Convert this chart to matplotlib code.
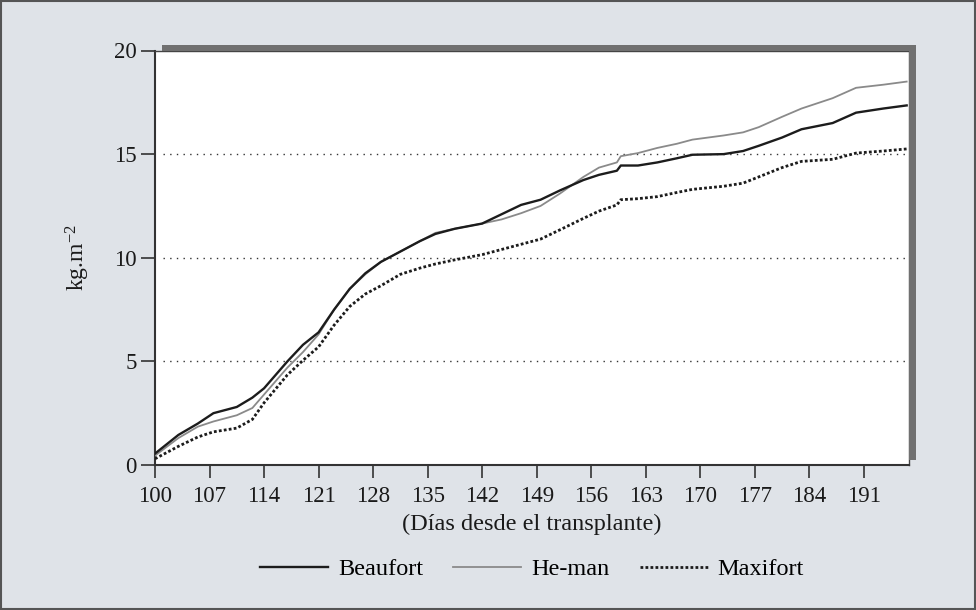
import matplotlib
matplotlib.use("Agg")
import matplotlib.pyplot as plt
from matplotlib.patches import Rectangle

# ---- data ----
days = [100, 103, 105.5, 107.5, 110.5, 112.5, 114, 117, 119, 121, 123, 125, 127, 129,
        131.5, 134, 136, 138.5, 142, 144.5, 147, 149.5, 152, 155, 157, 159.3, 159.8, 162,
        164.5, 167, 169, 173, 175.5, 177.5, 180.5, 183, 187, 190, 193.5, 196.5]
beaufort = [0.55, 1.45, 2.0, 2.5, 2.8, 3.25, 3.7, 5.0, 5.8, 6.4, 7.5, 8.5, 9.25, 9.8,
            10.3, 10.8, 11.15, 11.4, 11.65, 12.1, 12.55, 12.8, 13.25, 13.75, 14.0, 14.2, 14.45, 14.45,
            14.6, 14.8, 14.97, 15.0, 15.15, 15.4, 15.8, 16.2, 16.5, 17.0, 17.2, 17.35]
heman = [0.45, 1.3, 1.85, 2.1, 2.4, 2.75, 3.4, 4.7, 5.45, 6.3, 7.5, 8.5, 9.2, 9.8,
         10.3, 10.8, 11.2, 11.4, 11.65, 11.85, 12.15, 12.5, 13.1, 13.9, 14.35, 14.6, 14.9, 15.05,
         15.3, 15.5, 15.7, 15.9, 16.05, 16.3, 16.8, 17.2, 17.7, 18.2, 18.35, 18.5]
maxifort = [0.3, 0.9, 1.35, 1.6, 1.78, 2.2, 3.0, 4.35, 5.05, 5.7, 6.75, 7.65, 8.25, 8.65,
            9.2, 9.5, 9.7, 9.9, 10.15, 10.4, 10.65, 10.9, 11.35, 11.9, 12.25, 12.55, 12.8, 12.85,
            12.95, 13.15, 13.3, 13.45, 13.6, 13.9, 14.35, 14.65, 14.75, 15.05, 15.15, 15.25]
xticks = list(range(100, 192, 7))
yticks = [0, 5, 10, 15, 20]
series_names = ["Beaufort", "He-man", "Maxifort"]
xlabel = "(Días desde el transplante)"
ylabel = r"kg.m$^{\mathrm{-2}}$"

# ---- style ----
plt.rcParams["font.family"] = ["Liberation Serif", "DejaVu Serif"]
plt.rcParams["mathtext.fontset"] = "custom"
plt.rcParams["mathtext.rm"] = "Liberation Serif"
plt.rcParams["mathtext.it"] = "Liberation Serif:italic"

W, H = 976, 610
bg = "#dfe3e8"
fig = plt.figure(figsize=(W / 100, H / 100), dpi=100, facecolor=bg)

def fx(px):
    return px / W

def fy(py):
    return 1 - py / H

ax_l, ax_r, ax_t, ax_b = 155, 909, 50.5, 465
ax = fig.add_axes([fx(ax_l), fy(ax_b), fx(ax_r - ax_l), (ax_b - ax_t) / H])
ax.set_facecolor("white")

ax.plot(days, beaufort, color="#1c1c1c", lw=1.7, label=series_names[0], zorder=4)
ax.plot(days, heman, color="#8a8a8a", lw=1.3, label=series_names[1], zorder=3)
ax.plot(days, maxifort, color="#1c1c1c", lw=2.0, linestyle=(0, (1, 0.8)),
        label=series_names[2], zorder=5)

for yv in [5, 10, 15]:
    ax.axhline(yv, xmin=0.01, xmax=0.995, color="#333333", lw=1.0,
               linestyle=(0, (1, 3.8)), zorder=1)

ax.set_xlim(100, 196.8)
ax.set_ylim(0, 20)
ax.set_xticks(xticks)
ax.set_yticks(yticks)
ax.tick_params(axis="both", direction="out", colors="#333333", labelcolor="#1a1a1a",
               labelsize=16.5, width=1.2)
ax.tick_params(axis="x", length=9, pad=6)
ax.tick_params(axis="y", length=10, pad=3)

for s in ["left", "bottom"]:
    ax.spines[s].set_color("#333333")
    ax.spines[s].set_linewidth(1.5)
for s in ["top", "right"]:
    ax.spines[s].set_color("#444444")
    ax.spines[s].set_linewidth(1.0)

# shadow bars on top and right
fig.add_artist(Rectangle((fx(162), fy(50.5)), fx(916 - 162), 5.5 / H,
                         transform=fig.transFigure, facecolor="#707070",
                         edgecolor="none", zorder=10))
fig.add_artist(Rectangle((fx(909), fy(460)), fx(7), (460 - 45) / H,
                         transform=fig.transFigure, facecolor="#707070",
                         edgecolor="none", zorder=10))

ax.set_xlabel(xlabel, fontsize=17.5, color="#1a1a1a", labelpad=5)
ax.set_ylabel(ylabel, fontsize=17, color="#1a1a1a", labelpad=16)

handles, labels = ax.get_legend_handles_labels()
fig.legend(handles, labels, loc="center", bbox_to_anchor=(fx(532), fy(569)),
           ncol=3, frameon=False, fontsize=17.5, handlelength=2.8,
           handletextpad=0.4, columnspacing=1.25)

# outer border
fig.add_artist(Rectangle((0.001, 0.001), 0.998, 0.997, transform=fig.transFigure,
                         facecolor="none", edgecolor="#555555", lw=1.5, zorder=20))

fig.savefig("out.png", dpi=100, facecolor=bg)
